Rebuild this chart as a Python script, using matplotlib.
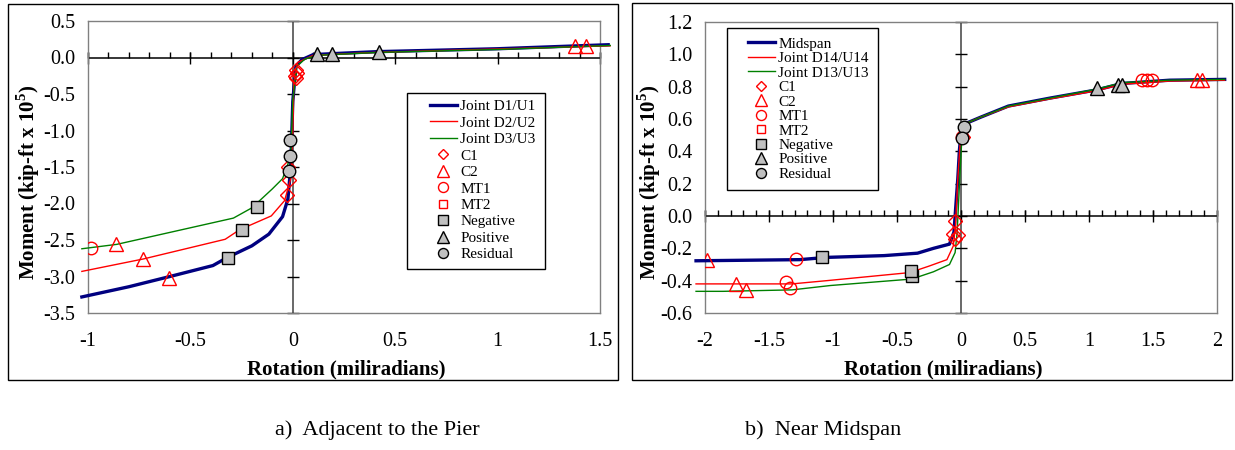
import numpy as np
import matplotlib
matplotlib.use('Agg')
import matplotlib.pyplot as plt
from matplotlib.patches import Rectangle
from matplotlib.ticker import MultipleLocator, FuncFormatter

plt.rcParams['font.family'] = ['Liberation Serif', 'DejaVu Serif']
plt.rcParams['mathtext.fontset'] = 'custom'
plt.rcParams['mathtext.rm'] = 'Liberation Serif'
plt.rcParams['mathtext.bf'] = 'Liberation Serif:bold'
plt.rcParams['axes.unicode_minus'] = False

# ---- a) Adjacent to the Pier ----
d1_x = [-1.03, -0.80, -0.60, -0.39, -0.32, -0.20, -0.117, -0.05, -0.024, -0.01, 0.0, 0.015, 0.044, 0.10, 0.25, 0.41, 1.0, 1.54]
d1_y = [-3.28, -3.14, -3.00, -2.85, -2.74, -2.58, -2.42, -2.18, -1.94, -1.50, -0.60, -0.12, -0.03, 0.04, 0.06, 0.08, 0.12, 0.175]
d2_x = [-1.03, -0.73, -0.33, -0.26, -0.105, -0.04, -0.01, 0.0, 0.005, 0.022, 0.10, 0.40, 0.79, 1.55]
d2_y = [-2.93, -2.76, -2.49, -2.36, -2.17, -1.96, -1.66, -1.03, -0.35, -0.07, 0.03, 0.07, 0.10, 0.16]
d3_x = [-1.03, -0.86, -0.29, -0.20, -0.10, -0.05, -0.01, 0.0, 0.02, 0.06, 0.12, 0.19, 0.42, 1.0, 1.55]
d3_y = [-2.62, -2.56, -2.20, -2.06, -1.80, -1.66, -1.35, -0.58, -0.12, -0.02, 0.03, 0.04, 0.07, 0.11, 0.165]

a_c1_x = [0.015, 0.02, 0.01, 0.015, -0.025, -0.02, -0.03]
a_c1_y = [-0.17, -0.21, -0.25, -0.28, -1.50, -1.68, -1.89]
a_c2_x = [-0.865, -0.73, -0.605, 1.376, 1.43]
a_c2_y = [-2.56, -2.76, -3.02, 0.155, 0.155]
a_mt1_x = [-0.985]
a_mt1_y = [-2.61]
a_mt2_x = []
a_mt2_y = []
a_neg_x = [-0.314, -0.249, -0.175]
a_neg_y = [-2.74, -2.36, -2.05]
a_pos_x = [0.12, 0.19, 0.42]
a_pos_y = [0.045, 0.05, 0.08]
a_res_x = [-0.016, -0.016, -0.02]
a_res_y = [-1.13, -1.35, -1.56]

# ---- b) Near Midspan ----
mid_x = [-2.07, -1.26, -1.05, -0.60, -0.34, -0.215, -0.09, -0.055, -0.037, -0.025, -0.012, 0.0, 0.03, 0.15, 0.37, 0.70, 1.06, 1.26, 1.63, 2.06]
mid_y = [-0.277, -0.27, -0.256, -0.245, -0.23, -0.20, -0.174, -0.10, 0.10, 0.23, 0.41, 0.51, 0.57, 0.61, 0.68, 0.73, 0.78, 0.82, 0.84, 0.845]
d14_x = [-2.07, -1.32, -1.05, -0.40, -0.25, -0.11, -0.06, -0.043, -0.025, -0.005, 0.03, 0.15, 0.37, 0.70, 1.06, 1.26, 1.63, 2.06]
d14_y = [-0.42, -0.42, -0.40, -0.35, -0.31, -0.27, -0.185, -0.06, 0.23, 0.47, 0.57, 0.61, 0.675, 0.725, 0.775, 0.815, 0.835, 0.84]
d13_x = [-2.07, -1.86, -1.32, -1.02, -0.385, -0.215, -0.09, -0.046, -0.03, -0.01, 0.006, 0.03, 0.15, 0.37, 0.70, 1.06, 1.26, 1.63, 2.06]
d13_y = [-0.466, -0.466, -0.457, -0.43, -0.39, -0.345, -0.30, -0.226, -0.10, 0.23, 0.47, 0.57, 0.61, 0.68, 0.73, 0.785, 0.825, 0.84, 0.845]

b_c1_x = [-0.046, -0.06, -0.025, -0.046, 0.015]
b_c1_y = [-0.03, -0.11, -0.12, -0.145, 0.49]
b_c2_x = [-1.985, -1.76, -1.68, 1.84, 1.886]
b_c2_y = [-0.273, -0.42, -0.46, 0.841, 0.841]
b_mt1_x = [-1.286, -1.37, -1.335, 1.415, 1.45, 1.49, 0.01]
b_mt1_y = [-0.263, -0.41, -0.445, 0.841, 0.841, 0.841, 0.49]
b_mt2_x = []
b_mt2_y = []
b_neg_x = [-1.083, -0.385, -0.39]
b_neg_y = [-0.256, -0.373, -0.343]
b_pos_x = [1.06, 1.225, 1.255]
b_pos_y = [0.79, 0.81, 0.81]
b_res_x = [0.02, 0.01]
b_res_y = [0.548, 0.482]

W, H = 1235, 450
fig = plt.figure(figsize=(W / 100, H / 100), dpi=100)


def fig_rect(x0, y0, x1, y1):
    # pixel box (top-left origin) -> figure fraction
    return [x0 / W, 1 - y1 / H, (x1 - x0) / W, (y1 - y0) / H]


def box(x0, y0, x1, y1):
    r = fig_rect(x0, y0, x1, y1)
    fig.patches.append(Rectangle((r[0], r[1]), r[2], r[3], transform=fig.transFigure,
                                 fill=False, ec='black', lw=1.0))


def fmt_y(v, p):
    if abs(v) < 1e-9:
        v = 0.0
    return f'{v:.1f}'


def fmt_x(v, p):
    if abs(v) < 1e-9:
        v = 0.0
    return f'{v:g}'


def panel(rect, xlim, ylim, ystep, lines, marks, leg_anchor, leg_box, lab_x, spacing):
    ax = fig.add_axes(fig_rect(*rect))
    ax.set_xlim(xlim)
    ax.set_ylim(ylim)
    for s in ax.spines.values():
        s.set_color('#808080')
        s.set_linewidth(1.0)
    ax.xaxis.set_major_locator(MultipleLocator(0.5))
    ax.yaxis.set_major_locator(MultipleLocator(ystep))
    ax.xaxis.set_major_formatter(FuncFormatter(fmt_x))
    ax.yaxis.set_major_formatter(FuncFormatter(fmt_y))
    ax.tick_params(length=0, labelsize=14.5)
    ax.tick_params(axis='x', pad=14)
    ax.tick_params(axis='y', pad=9)

    # axes crossing at zero, Excel style
    ax.axhline(0, color='black', lw=1.1, zorder=1)
    ax.axvline(0, color='#404040', lw=1.1, zorder=1)
    xt = np.arange(xlim[0], xlim[1] + 1e-6, 0.5)
    xm = np.arange(xlim[0], xlim[1] + 1e-6, 0.1)
    yt = np.arange(ylim[0], ylim[1] + 1e-6, ystep)
    ax.plot(xm, np.zeros_like(xm), ls='none', marker=2, ms=4.5, mew=1, color='black', clip_on=False, zorder=2)
    ax.plot(xt, np.zeros_like(xt), ls='none', marker='|', ms=9, mew=1, color='black', clip_on=False, zorder=2)
    ax.plot(np.zeros_like(yt), yt, ls='none', marker='_', ms=8, mew=1, color='black', clip_on=False, zorder=2)

    for (x, y, label, color, lw) in lines:
        ax.plot(x, y, color=color, lw=lw, label=label, clip_on=False, zorder=3)

    for (x, y, label, m, ms, face, edge) in marks:
        ax.plot(x, y, ls='none', marker=m, ms=ms, mfc=face, mec=edge, mew=1,
                label=label, zorder=5)

    leg = ax.legend(loc='center left', bbox_to_anchor=(leg_anchor[0] / W, 1 - leg_anchor[1] / H),
                    bbox_transform=fig.transFigure, frameon=False, borderpad=0, fontsize=11,
                    handlelength=1.8, handletextpad=0.2, labelspacing=spacing, markerscale=0.8)
    box(*leg_box)

    ax.set_xlabel('Rotation (miliradians)', fontsize=15, fontweight='bold', va='center')
    ax.xaxis.set_label_coords(lab_x, -0.195)
    ax.set_ylabel(r'Moment (kip-ft x 10$^\mathbf{5}$)', fontsize=15, fontweight='bold', va='center')
    return ax


def marker_set(c1, c2, mt1, mt2, neg, pos, res):
    gray = '#c0c0c0'
    return [
        (c1[0], c1[1], 'C1', 'D', 7, 'none', 'red'),
        (c2[0], c2[1], 'C2', '^', 10, 'none', 'red'),
        (mt1[0], mt1[1], 'MT1', 'o', 9, 'none', 'red'),
        (mt2[0], mt2[1], 'MT2', 's', 8, 'none', 'red'),
        (neg[0], neg[1], 'Negative', 's', 9, gray, 'black'),
        (pos[0], pos[1], 'Positive', '^', 10, gray, 'black'),
        (res[0], res[1], 'Residual', 'o', 9, gray, 'black'),
    ]


# panel a
box(8, 4, 618, 380)
ax1 = panel((88, 21, 600, 313), (-1, 1.5), (-3.5, 0.5), 0.5,
            [(d1_x, d1_y, 'Joint D1/U1', '#000080', 2.4),
             (d2_x, d2_y, 'Joint D2/U2', '#ff0000', 1.0),
             (d3_x, d3_y, 'Joint D3/U3', '#008000', 1.0)],
            marker_set((a_c1_x, a_c1_y), (a_c2_x, a_c2_y), (a_mt1_x, a_mt1_y), (a_mt2_x, a_mt2_y),
                       (a_neg_x, a_neg_y), (a_pos_x, a_pos_y), (a_res_x, a_res_y)),
            (422, 180.5), (407, 93, 545, 269), 0.504, 0.18)
ax1.yaxis.set_label_coords(-0.117, 0.449)

# panel b
box(632, 3, 1232, 380)
ax2 = panel((705, 22, 1217, 313), (-2, 2), (-0.6, 1.2), 0.2,
            [(mid_x, mid_y, 'Midspan', '#000080', 2.4),
             (d14_x, d14_y, 'Joint D14/U14', '#ff0000', 1.0),
             (d13_x, d13_y, 'Joint D13/U13', '#008000', 1.0)],
            marker_set((b_c1_x, b_c1_y), (b_c2_x, b_c2_y), (b_mt1_x, b_mt1_y), (b_mt2_x, b_mt2_y),
                       (b_neg_x, b_neg_y), (b_pos_x, b_pos_y), (b_res_x, b_res_y)),
            (740, 109), (727, 28, 878, 190), 0.465, 0.05)
ax2.yaxis.set_label_coords(-0.109, 0.449)

fig.text(275 / W, 1 - 430 / H, 'a)  Adjacent to the Pier', fontsize=16, va='center')
fig.text(745 / W, 1 - 430 / H, 'b)  Near Midspan', fontsize=16, va='center')

fig.savefig('out.png', dpi=100)
